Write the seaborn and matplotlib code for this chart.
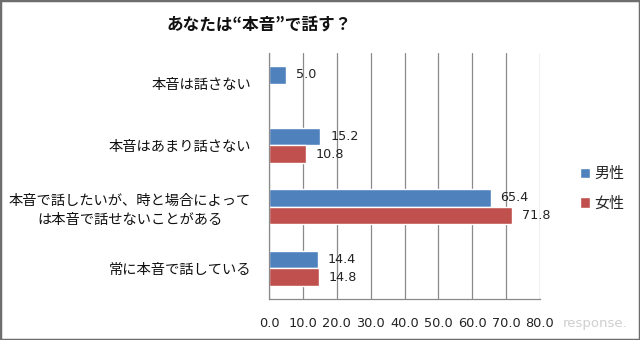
import matplotlib
matplotlib.use("Agg")
import matplotlib.pyplot as plt
from matplotlib.patches import Rectangle
import seaborn as sns
import pandas as pd

categories = ["本音は話さない", "本音はあまり話さない",
              "本音で話したいが、時と場合によって\nは本音で話せないことがある",
              "常に本音で話している"]
series_names = ["男性", "女性"]
male = [5.0, 15.2, 65.4, 14.4]
female = [0.0, 10.8, 71.8, 14.8]
xticks = [0, 10, 20, 30, 40, 50, 60, 70, 80]
title = "あなたは“本音”で話す？"

sns.set_theme(style="white")
plt.rcParams['font.family'] = ['Noto Sans CJK JP', 'DejaVu Sans']

df = pd.DataFrame({
    "category": categories * 2,
    "value": male + female,
    "gender": [series_names[0]] * 4 + [series_names[1]] * 4,
})

fig = plt.figure(figsize=(6.4, 3.4), dpi=100)
ax = fig.add_axes([269/640, 1 - 299/340, 271/640, 246/340])

sns.barplot(data=df, y="category", x="value", hue="gender", orient="h",
            palette=["#4F81BD", "#C0504D"], width=0.57, ax=ax,
            order=categories, hue_order=series_names, saturation=1)

ax.set_xlim(0, 80)
ax.set_xticks(xticks)
ax.set_xticklabels([f"{t:.1f}" for t in xticks], fontfamily="DejaVu Sans",
                   fontsize=9.3, color="#222222")
ax.set_xlabel("")
ax.set_ylabel("")
ax.tick_params(axis="x", length=0, pad=13)
ax.tick_params(axis="y", length=0, pad=13)
for lab in ax.get_yticklabels():
    lab.set_fontsize(10.3)
    lab.set_multialignment("center")
    lab.set_color("#111111")
    lab.set_linespacing(1.45)

ax.grid(axis="x", color="#8a8a8a", lw=0.9)
ax.set_axisbelow(True)
for s in ["top", "right"]:
    ax.spines[s].set_visible(False)
for s in ["left", "bottom"]:
    ax.spines[s].set_color("#8a8a8a")
    ax.spines[s].set_linewidth(0.9)

for cont, vals in zip(ax.containers, [male, female]):
    ax.bar_label(cont, labels=[f"{v:.1f}" if v > 0 else "" for v in vals],
                 padding=7, fontsize=9.2, fontfamily="DejaVu Sans", color="#222222")

leg = ax.get_legend()
handles = leg.legend_handles
leg.remove()
fig.legend(handles, series_names, loc="center left",
           bbox_to_anchor=(566/640, 1 - 189/340), frameon=False,
           fontsize=10.8, handlelength=0.7, handleheight=0.7,
           handletextpad=0.3, labelspacing=1.0)

fig.text(259/640, 1 - 25/340, title, ha="center", va="center",
         fontsize=12, fontweight="bold", color="#111111")

fig.text(628/640, 1 - 324/340, "response.", ha="right", va="center",
         fontsize=9.5, color="#cfcfcf", fontfamily="DejaVu Sans")

fig.patches.append(Rectangle((0, 0), 1, 1, transform=fig.transFigure,
                             fill=False, edgecolor="#6e6e6e", lw=2.5))

fig.savefig("out.png", dpi=100)
